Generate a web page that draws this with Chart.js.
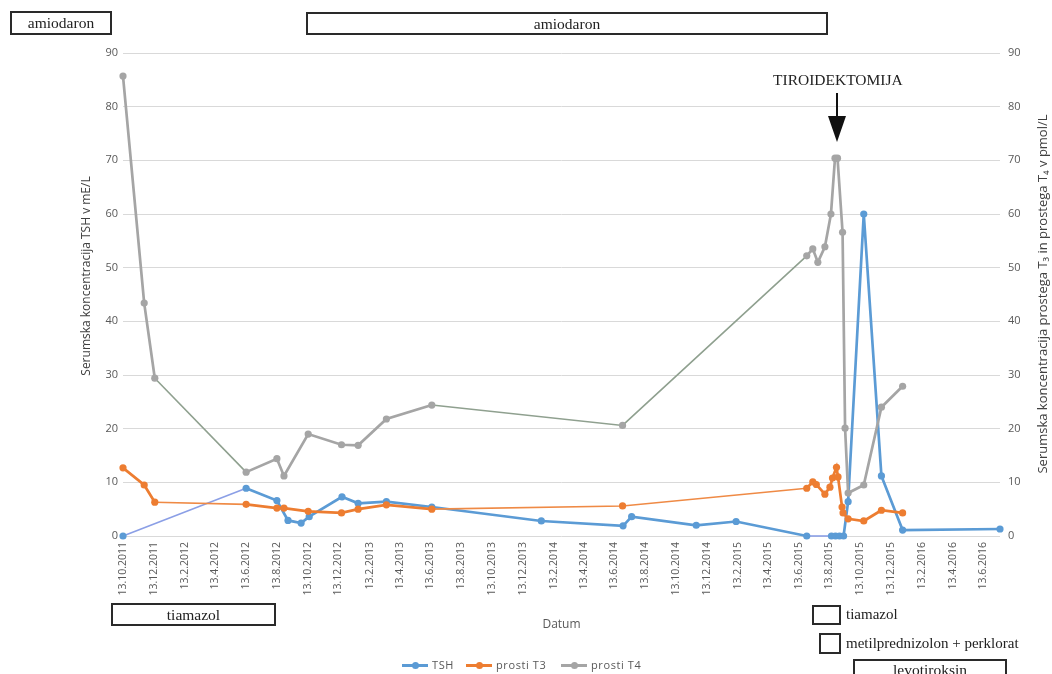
<!DOCTYPE html>
<html>
<head>
<meta charset="utf-8">
<script src="https://cdn.jsdelivr.net/npm/chart.js"></script>
<style>
  body { margin: 0; background: #fff; }
  #wrap { position: relative; width: 1052px; height: 674px; overflow: hidden; font-family: "Liberation Serif", serif; color: #222; }
  #c { position: absolute; left: 0; top: 0; }
  .box { position: absolute; box-sizing: border-box; border: 2px solid #2a2a2a; display: flex; align-items: center; justify-content: center; font-size: 15.5px; line-height: 1; }
  .lbl { position: absolute; font-size: 15px; white-space: nowrap; line-height: 1; }
  .vt { position: absolute; font-family: "Open Sans", sans-serif; font-size: 12px; color: #404040; white-space: nowrap; transform: translate(-50%, -50%) rotate(-90deg); }
  #legend { position: absolute; top: 658px; left: 0; width: 1052px; height: 14px; font-family: "Open Sans", sans-serif; font-size: 11px; color: #595959; }
  .li { position: absolute; top: 0; height: 14px; line-height: 14px; white-space: nowrap; }
  .li i { position: absolute; top: 6px; height: 2.5px; width: 26px; left: 0; }
  .li b { position: absolute; top: 3.5px; left: 9.5px; width: 7px; height: 7px; border-radius: 50%; }
  .li span { position: absolute; left: 30px; top: 0; letter-spacing: 0.6px; }
</style>
</head>
<body>
<div id="wrap">
  <canvas id="c" width="1052" height="674"></canvas>

  <div class="box" style="left:10px;top:11px;width:102px;height:24px;">amiodaron</div>
  <div class="box" style="left:306px;top:12px;width:522px;height:23px;">amiodaron</div>
  <div class="lbl" style="left:773px;top:72px;font-size:15.5px;">TIROIDEKTOMIJA</div>
  <svg style="position:absolute;left:0;top:0;" width="1052" height="674">
    <line x1="837" y1="93" x2="837" y2="118" stroke="#111" stroke-width="2"/>
    <polygon points="828,116 846,116 837,142" fill="#111"/>
  </svg>

  <div class="box" style="left:111px;top:603px;width:165px;height:23px;">tiamazol</div>
  <div class="box" style="left:812px;top:605px;width:29px;height:20px;"></div>
  <div class="lbl" style="left:846px;top:607px;">tiamazol</div>
  <div class="box" style="left:819px;top:633px;width:22px;height:21px;"></div>
  <div class="lbl" style="left:846px;top:636px;">metilprednizolon + perklorat</div>
  <div class="box" style="left:853px;top:659px;width:154px;height:24px;align-items:flex-start;padding-top:1px;">levotiroksin</div>

  <div class="vt" style="left:85px;top:276px;">Serumska koncentracija TSH v mE/L</div>
  <div class="vt" style="left:1042px;top:294px;font-size:13px;">Serumska koncentracija prostega T₃ in prostega T₄ v pmol/L</div>

  <div id="legend"></div>
</div>

<script>
// datumi meritev (d.m.yyyy) in vrednosti
var tshDates = ["13.10.2011", "13.6.2012", "13.8.2012", "4.9.2012", "30.9.2012", "16.10.2012", "20.12.2012",
  "21.1.2013", "18.3.2013", "16.6.2013", "19.1.2014", "30.6.2014", "17.7.2014", "22.11.2014", "9.2.2015",
  "29.6.2015", "17.8.2015", "25.8.2015", "2.9.2015", "10.9.2015", "19.9.2015", "20.10.2015", "24.11.2015",
  "5.1.2016", "16.7.2016"];
var tshValues = [0, 8.9, 6.6, 2.9, 2.4, 3.6, 7.3,
  6.1, 6.4, 5.4, 2.8, 1.9, 3.6, 2.0, 2.7,
  0, 0, 0, 0, 0, 6.4, 60.0, 11.2,
  1.1, 1.3];

var t3Dates = ["13.10.2011", "24.11.2011", "15.12.2011", "13.6.2012", "13.8.2012", "27.8.2012", "14.10.2012",
  "19.12.2012", "21.1.2013", "18.3.2013", "16.6.2013", "29.6.2014", "29.6.2015", "11.7.2015", "18.7.2015",
  "4.8.2015", "14.8.2015", "19.8.2015", "27.8.2015", "30.8.2015", "7.9.2015", "9.9.2015", "19.9.2015",
  "20.10.2015", "24.11.2015", "5.1.2016"];
var t3Values = [12.7, 9.5, 6.3, 5.9, 5.2, 5.2, 4.6,
  4.3, 5.0, 5.8, 5.0, 5.6, 8.9, 10.1, 9.6,
  7.8, 9.1, 10.8, 12.8, 11.0, 5.4, 4.3, 3.2,
  2.8, 4.8, 4.3];

var t4Dates = ["13.10.2011", "24.11.2011", "15.12.2011", "13.6.2012", "13.8.2012", "27.8.2012", "14.10.2012",
  "19.12.2012", "21.1.2013", "18.3.2013", "16.6.2013", "29.6.2014", "29.6.2015", "11.7.2015", "21.7.2015",
  "4.8.2015", "16.8.2015", "24.8.2015", "29.8.2015", "8.9.2015", "13.9.2015", "19.9.2015", "20.10.2015",
  "24.11.2015", "5.1.2016"];
var t4Values = [85.7, 43.4, 29.4, 11.9, 14.4, 11.2, 19.0,
  17.0, 16.9, 21.8, 24.4, 20.6, 52.2, 53.5, 51.0,
  53.9, 60.0, 70.4, 70.4, 56.6, 20.1, 8.0, 9.5,
  24.0, 27.9];

// odseki brez vmesnih meritev (zacetni datum odseka)
var tshGaps = ["13.10.2011", "29.6.2015"];
var t3Gaps = ["15.12.2011", "16.6.2013", "29.6.2014"];
var t4Gaps = ["15.12.2011", "16.6.2013", "29.6.2014"];

var tickLabels = ["13.10.2011", "13.12.2011", "13.2.2012", "13.4.2012", "13.6.2012", "13.8.2012",
  "13.10.2012", "13.12.2012", "13.2.2013", "13.4.2013", "13.6.2013", "13.8.2013", "13.10.2013",
  "13.12.2013", "13.2.2014", "13.4.2014", "13.6.2014", "13.8.2014", "13.10.2014", "13.12.2014",
  "13.2.2015", "13.4.2015", "13.6.2015", "13.8.2015", "13.10.2015", "13.12.2015", "13.2.2016",
  "13.4.2016", "13.6.2016"];

var base = Date.UTC(2011, 9, 13);
function day(s) {
  var p = s.split(".").map(Number);
  return (Date.UTC(p[2], p[1] - 1, p[0]) - base) / 86400000;
}

function series(label, dates, values, color, gaps, gapColor, axis) {
  var gapDays = gaps.map(day);
  var isGap = function (ctx) { return gapDays.indexOf(ctx.p0.parsed.x) >= 0; };
  return {
    label: label,
    data: dates.map(function (d, i) { return { x: day(d), y: values[i] }; }),
    yAxisID: axis,
    borderColor: color,
    backgroundColor: color,
    borderWidth: 2.7,
    pointRadius: 3.6,
    pointBorderWidth: 0,
    pointBackgroundColor: color,
    tension: 0,
    clip: false,
    segment: {
      borderColor: function (ctx) { return isGap(ctx) ? gapColor : undefined; },
      borderWidth: function (ctx) { return isGap(ctx) ? 1.6 : undefined; }
    }
  };
}

var tickFont = { family: "Open Sans", size: 11 };

new Chart(document.getElementById("c"), {
  type: "line",
  data: {
    datasets: [
      series("prosti T4", t4Dates, t4Values, "#a5a5a5", t4Gaps, "#8fa08f", "y2"),
      series("prosti T3", t3Dates, t3Values, "#ed7d31", t3Gaps, "#ef8a45", "y2"),
      series("TSH", tshDates, tshValues, "#5b9bd5", tshGaps, "#8b9fe6", "y")
    ]
  },
  options: {
    responsive: false,
    animation: false,
    layout: { padding: { top: 53, bottom: 38, left: 0, right: 0 } },
    plugins: { legend: { display: false }, tooltip: { enabled: false } },
    scales: {
      x: {
        type: "linear",
        min: 0,
        max: day(tshDates[tshDates.length - 1]),
        afterBuildTicks: function (s) { s.ticks = tickLabels.map(function (l) { return { value: day(l) }; }); },
        afterFit: function (s) { s.height = 100; },
        grid: { display: false, drawTicks: false },
        border: { display: false },
        ticks: {
          autoSkip: false, minRotation: 90, maxRotation: 90, padding: 6,
          font: { family: "Open Sans", size: 10.5 }, color: "#595959",
          callback: function (v, i) { return tickLabels[i]; }
        },
        title: { display: true, text: "Datum", font: { family: "Open Sans", size: 12 }, color: "#595959", padding: { top: 0, bottom: 4 } }
      },
      y: {
        position: "left",
        min: 0, max: 90,
        afterFit: function (s) { s.width = 123; },
        ticks: { stepSize: 10, padding: 5, font: tickFont, color: "#595959" },
        grid: { color: "#d9d9d9", drawTicks: false },
        border: { display: false }
      },
      y2: {
        position: "right",
        min: 0, max: 90,
        afterFit: function (s) { s.width = 52; },
        ticks: { stepSize: 10, padding: 8, font: tickFont, color: "#595959" },
        grid: { display: false, drawTicks: false },
        border: { display: false }
      }
    }
  }
});

// legenda
var legendItems = [["TSH", "#5b9bd5", 402], ["prosti T3", "#ed7d31", 466], ["prosti T4", "#a5a5a5", 561]];
var lg = document.getElementById("legend");
legendItems.forEach(function (it) {
  var el = document.createElement("div");
  el.className = "li";
  el.style.left = it[2] + "px";
  el.innerHTML = '<i style="background:' + it[1] + '"></i><b style="background:' + it[1] + '"></b><span>' + it[0] + "</span>";
  lg.appendChild(el);
});
</script>
</body>
</html>
